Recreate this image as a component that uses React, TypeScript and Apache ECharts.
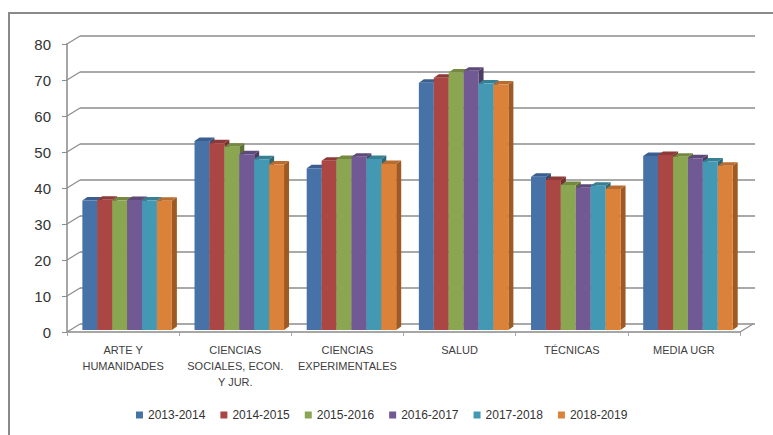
import React, { useEffect, useRef } from "react";
import * as echarts from "echarts";

const categories = [
  "ARTE Y\nHUMANIDADES",
  "CIENCIAS\nSOCIALES, ECON.\nY JUR.",
  "CIENCIAS\nEXPERIMENTALES",
  "SALUD",
  "TÉCNICAS",
  "MEDIA UGR",
];
const years = ["2013-2014", "2014-2015", "2015-2016", "2016-2017", "2017-2018", "2018-2019"];
const v2013 = [36.0, 52.5, 44.9, 68.7, 42.6, 48.3];
const v2014 = [36.2, 51.9, 47.0, 70.1, 41.7, 48.6];
const v2015 = [36.0, 50.9, 47.5, 71.5, 40.3, 48.1];
const v2016 = [36.1, 48.8, 48.1, 72.0, 39.5, 47.7];
const v2017 = [36.0, 47.4, 47.5, 68.5, 40.1, 46.8];
const v2018 = [35.9, 46.0, 46.1, 68.2, 39.2, 45.6];
const seriesValues = [v2013, v2014, v2015, v2016, v2017, v2018];
const yTicks = [0, 10, 20, 30, 40, 50, 60, 70, 80];

const frontColors = ["#4672A8", "#AA4644", "#8BA651", "#715A93", "#4399B3", "#DA8239"];
const topColors = ["#3A5F8F", "#8E3A38", "#74893F", "#5D4A7A", "#377F93", "#B86C2F"];
const sideColors = ["#2F4E77", "#75302E", "#5F7034", "#4C3D65", "#2D6878", "#9E5A22"];

const FONT = "'Liberation Sans', Arial, sans-serif";
const DX = 13;
const DY = 8;

export default function App() {
  const ref = useRef<HTMLDivElement>(null);

  useEffect(() => {
    if (!ref.current) return;
    const chart = echarts.init(ref.current, undefined, { renderer: "svg" });

    const barSeries = seriesValues.map((vals, j) => ({
      type: "custom",
      name: years[j],
      xAxisIndex: 0,
      yAxisIndex: 0,
      z: 3,
      silent: true,
      itemStyle: { color: frontColors[j] },
      data: vals.map((v, i) => [i, v]),
      renderItem: (params: any, api: any) => {
        const i = api.value(0);
        const v = api.value(1);
        const top = api.coord([i, v]);
        const base = api.coord([i, 0]);
        const catW = api.size([1, 0])[0];
        const barW = catW * 0.133;
        const x0 = top[0] + catW * 0.036 - 3 * barW + j * barW;
        const x1 = x0 + barW;
        const yt = top[1] - 2;
        const yb = base[1] - 2;
        const dx = 5;
        const dy = 3.5;
        return {
          type: "group",
          children: [
            {
              type: "polygon",
              shape: { points: [[x1, yt], [x1 + dx, yt - dy], [x1 + dx, yb - dy], [x1, yb]] },
              style: { fill: sideColors[j] },
            },
            {
              type: "polygon",
              shape: { points: [[x0, yt], [x0 + dx, yt - dy], [x1 + dx, yt - dy], [x1, yt]] },
              style: { fill: topColors[j] },
            },
            {
              type: "rect",
              shape: { x: x0, y: yt, width: barW, height: yb - yt },
              style: { fill: frontColors[j] },
            },
          ],
        };
      },
    }));

    const connectorSeries = {
      type: "custom",
      name: "_connectors",
      xAxisIndex: 0,
      yAxisIndex: 0,
      z: 1,
      silent: true,
      data: yTicks.map((t) => [0, t]),
      renderItem: (params: any, api: any) => {
        const cs = params.coordSys;
        const v = api.value(1);
        const y = api.coord([0, v])[1];
        const children: any[] = [
          {
            type: "line",
            shape: { x1: cs.x, y1: y, x2: cs.x + DX, y2: y - DY },
            style: { stroke: "#8c8c8c", lineWidth: 1.2 },
          },
        ];
        if (v === 0) {
          children.push({
            type: "line",
            shape: { x1: cs.x + cs.width, y1: y, x2: cs.x + cs.width + DX, y2: y - DY },
            style: { stroke: "#8c8c8c", lineWidth: 1.2 },
          });
        }
        return { type: "group", children };
      },
    };

    chart.setOption({
      animation: false,
      backgroundColor: "#ffffff",
      graphic: [
        {
          type: "rect",
          shape: { x: 9, y: 13, width: 900, height: 600 },
          style: { fill: "none", stroke: "#8a8a8a", lineWidth: 2 },
          z: 0,
        },
      ],
      grid: [
        { left: 67, top: 44, width: 673, height: 288 },
        { left: 67 + DX, top: 44 - DY, width: 675, height: 288 },
      ],
      legend: {
        data: years,
        left: 136,
        top: 409,
        icon: "rect",
        itemWidth: 7,
        itemHeight: 7,
        itemGap: 15,
        padding: 0,
        textStyle: { fontSize: 12, color: "#333", fontFamily: FONT },
      },
      xAxis: [
        {
          type: "category",
          gridIndex: 0,
          data: categories,
          axisLine: { lineStyle: { color: "#a6a6a6", width: 2 } },
          axisTick: { show: true, length: 4, lineStyle: { color: "#a6a6a6" } },
          axisLabel: {
            interval: 0,
            fontSize: 11,
            lineHeight: 16,
            color: "#404040",
            margin: 10,
            fontFamily: FONT,
          },
        },
        { type: "category", gridIndex: 1, data: categories, show: false },
      ],
      yAxis: [
        {
          type: "value",
          gridIndex: 0,
          min: 0,
          max: 80,
          interval: 10,
          axisLine: { show: true, lineStyle: { color: "#a6a6a6", width: 2 } },
          axisTick: { show: true, length: 5, lineStyle: { color: "#8c8c8c" } },
          splitLine: { show: false },
          axisLabel: { fontSize: 15, color: "#333", margin: 16, fontFamily: FONT },
        },
        {
          type: "value",
          gridIndex: 1,
          min: 0,
          max: 80,
          interval: 10,
          axisLine: { show: false },
          axisTick: { show: false },
          axisLabel: { show: false },
          splitLine: { show: true, lineStyle: { color: "#8c8c8c", width: 1.5 } },
        },
      ],
      series: [connectorSeries, ...barSeries],
    });

    return () => chart.dispose();
  }, []);

  return (
    <div
      ref={ref}
      style={{ position: "absolute", left: 0, top: 0, width: 773, height: 435, background: "#fff" }}
    />
  );
}
